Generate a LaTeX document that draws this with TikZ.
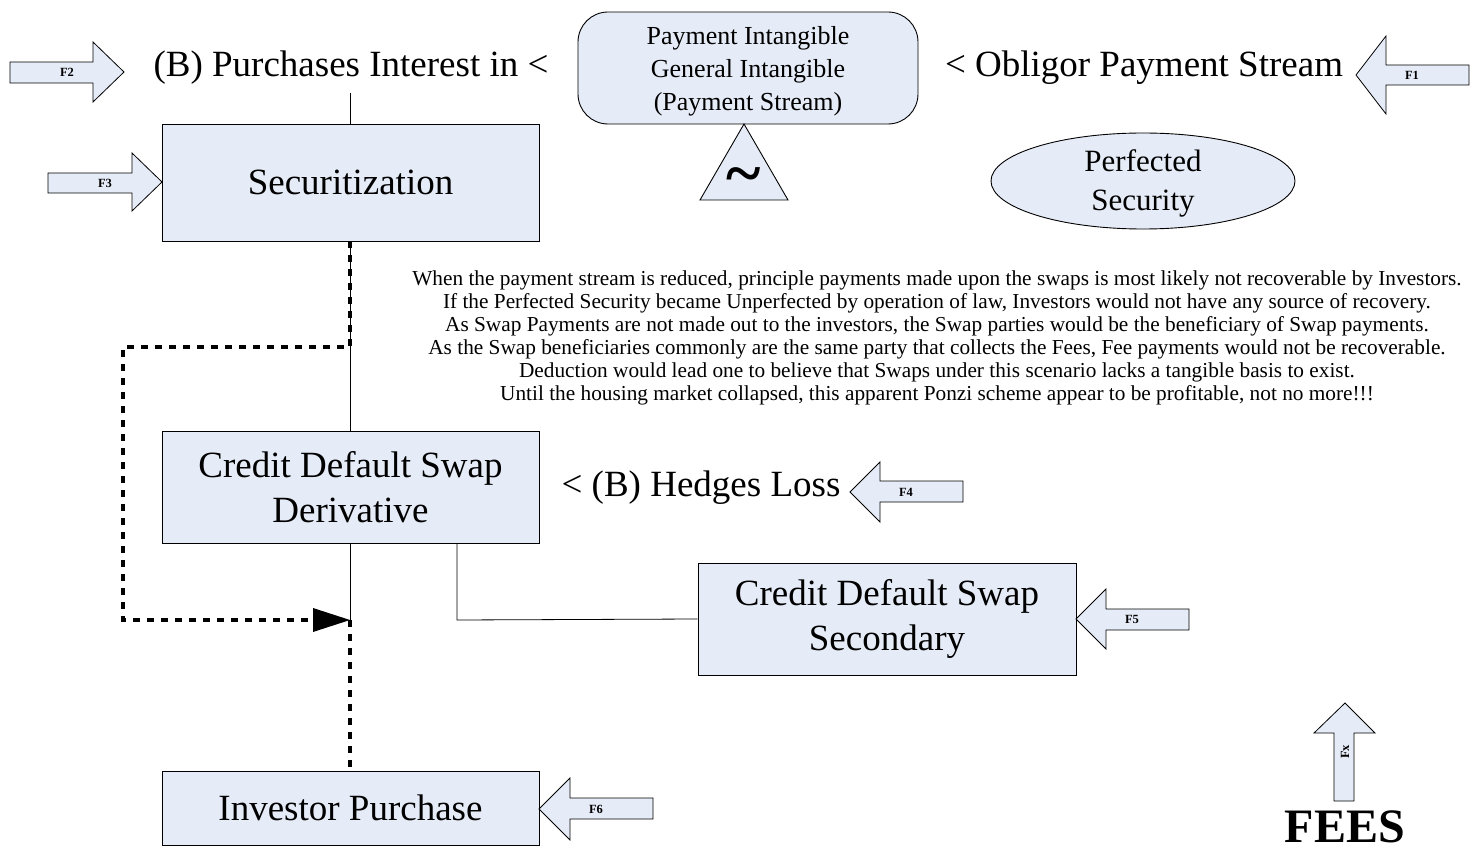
\documentclass[tikz,border=0pt]{standalone}
\usepackage{fontspec}
\setmainfont{Liberation Serif}
\usetikzlibrary{shapes.geometric,arrows.meta}
\definecolor{boxfill}{RGB}{230,236,247}
\tikzset{
  box/.style={draw, fill=boxfill, line width=0.9pt, inner sep=0pt, align=center},
  farrow/.style={draw, fill=boxfill, line width=0.8pt},
  flabel/.style={font=\bfseries\fontsize{12.5}{13}\selectfont, inner sep=0pt},
  big/.style={font=\fontsize{37}{45}\selectfont, inner sep=0pt, align=center},
  thin/.style={line width=0.8pt},
  flow/.style={line width=4pt, dash pattern=on 7pt off 7pt},
}
\begin{document}
\begin{tikzpicture}[x=1pt,y=-1pt]
\useasboundingbox (0,0) rectangle (1478,850);
% main boxes
\node[box, big, minimum width=377, minimum height=117] (sec) at (350.5,182.5) {Securitization};
\node[box, big, minimum width=377, minimum height=112] (cdsd) at (350.5,487) {Credit Default Swap\\Derivative};
\node[box, big, minimum width=378, minimum height=112] (cdss) at (887,619) {Credit Default Swap\\Secondary};
\node[box, big, minimum width=377, minimum height=74] (inv) at (350.5,808) {Investor Purchase};
\node[box, rounded corners=30, minimum width=340, minimum height=112] (pay) at (748,68) {};
\node[font=\fontsize{26}{33}\selectfont, inner sep=0pt, align=center] (paytext) at (748,71) {Payment Intangible\\General Intangible\\(Payment Stream)};
\node[box, ellipse, minimum width=304, minimum height=96] (perf) at (1143,181) {};
\node[font=\fontsize{31}{39}\selectfont, inner sep=0pt, align=center] (perftext) at (1143,183) {Perfected\\Security};
% triangle
\draw[farrow, line width=0.9pt] (744,124) -- (788,200) -- (700,200) -- cycle;
\node[font=\bfseries\fontsize{66}{66}\selectfont, inner sep=0pt] (tilde) at (744,182) {\textasciitilde};
% labels
\node[big] (purch) at (351,68) {(B) Purchases Interest in <};
\node[big] (oblig) at (1144,68) {< Obligor Payment Stream};
\node[big] (hedge) at (701,488) {< (B) Hedges Loss};
\node[font=\bfseries\fontsize{48}{48}\selectfont, inner sep=0pt, anchor=base] (fees) at (1345,842) {FEES};
\node[font=\fontsize{21.3}{23}\selectfont, inner sep=0pt, align=center] (note) at (937,337.5) {When the payment stream is reduced, principle payments made upon the swaps is most likely not recoverable by Investors.\\
If the Perfected Security became Unperfected by operation of law, Investors would not have any source of recovery.\\
As Swap Payments are not made out to the investors, the Swap parties would be the beneficiary of Swap payments.\\
As the Swap beneficiaries commonly are the same party that collects the Fees, Fee payments would not be recoverable.\\
Deduction would lead one to believe that Swaps under this scenario lacks a tangible basis to exist.\\
Until the housing market collapsed, this apparent Ponzi scheme appear to be profitable, not no more!!!};
% connectors
\coordinate (ptop) at (350,93);
\coordinate (turn1) at (350,347);
\coordinate (turn2) at (123,347);
\coordinate (turn3) at (123,620);
\coordinate (merge) at (350,620);
\coordinate (sidedown) at (457,620);
\draw[thin] (ptop) -- (ptop |- sec.north);
\draw[thin] (ptop |- sec.south) -- (ptop |- cdsd.north);
\draw[thin] (ptop |- cdsd.south) -- (merge);
\draw[thin] (sidedown |- cdsd.south) -- (sidedown) -- (cdss.west);
\draw[flow] (ptop |- sec.south) -- (turn1) -- (turn2) -- (turn3) -- ([xshift=-30pt]merge);
\draw[flow] (merge) -- (ptop |- inv.north);
\fill (merge) -- (313,608) -- (313,632) -- cycle;
% block arrows
\draw[farrow] (10,62) -- (93,62) -- (93,42) -- (124,72) -- (93,102) -- (93,83) -- (10,83) -- cycle;
\node[flabel] (f2) at (67,72.5) {F2};
\draw[farrow] (1469,65) -- (1386,65) -- (1386,36) -- (1356,75) -- (1386,114) -- (1386,85) -- (1469,85) -- cycle;
\node[flabel] (f1) at (1412,75) {F1};
\draw[farrow] (48,173) -- (132,173) -- (132,153) -- (162,182) -- (132,211) -- (132,193) -- (48,193) -- cycle;
\node[flabel] (f3) at (105,183) {F3};
\draw[farrow] (963,481) -- (880,481) -- (880,462) -- (850,492) -- (880,522) -- (880,502) -- (963,502) -- cycle;
\node[flabel] (f4) at (906,492) {F4};
\draw[farrow] (1189,609) -- (1106,609) -- (1106,589) -- (1076,619) -- (1106,649) -- (1106,630) -- (1189,630) -- cycle;
\node[flabel] (f5) at (1132,619) {F5};
\draw[farrow] (653,798) -- (570,798) -- (570,778) -- (539,809) -- (570,840) -- (570,819) -- (653,819) -- cycle;
\node[flabel] (f6) at (596,809) {F6};
\draw[farrow] (1334,801) -- (1334,733) -- (1314,733) -- (1345,703) -- (1375,733) -- (1354,733) -- (1354,801) -- cycle;
\node[flabel, rotate=90] (fx) at (1345,752) {Fx};
\end{tikzpicture}
\end{document}
